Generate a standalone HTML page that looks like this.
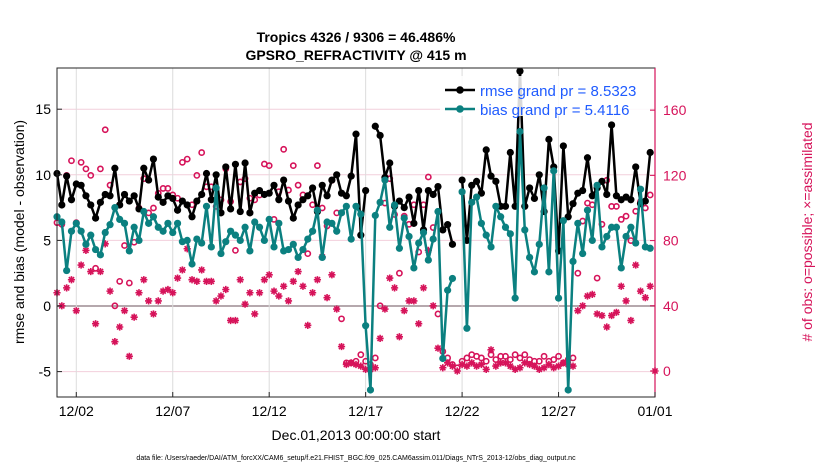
<!DOCTYPE html>
<html><head><meta charset="utf-8"><style>
html,body{margin:0;padding:0;background:#fff;}
svg{display:block;font-family:"Liberation Sans",Arial,sans-serif;}
</style></head><body>
<svg id="chart" width="830" height="470" viewBox="0 0 830 470" xmlns="http://www.w3.org/2000/svg">
<text x="356" y="42" text-anchor="middle" font-size="14" font-weight="bold">Tropics 4326 / 9306 = 46.486%</text>
<text x="356" y="60" text-anchor="middle" font-size="14" font-weight="bold">GPSRO_REFRACTIVITY @ 415 m</text>
<g id="grid"></g>
<g id="marks"></g>
<rect x="57" y="68" width="598" height="329" fill="none" stroke="#262626" stroke-width="1"/>
<line x1="655" y1="68" x2="655" y2="397" stroke="#d6135a" stroke-width="1.2"/>
<g id="axes"></g>
<text transform="translate(24,232) rotate(-90)" text-anchor="middle" font-size="14">rmse and bias (model - observation)</text>
<text transform="translate(812,232) rotate(-90)" text-anchor="middle" font-size="14" fill="#d6135a"># of obs: o=possible; ×=assimilated</text>
<text x="356" y="440" text-anchor="middle" font-size="14">Dec.01,2013 00:00:00 start</text>
<text x="356" y="460" text-anchor="middle" font-size="7">data file: /Users/raeder/DAI/ATM_forcXX/CAM6_setup/f.e21.FHIST_BGC.f09_025.CAM6assim.011/Diags_NTrS_2013-12/obs_diag_output.nc</text>
<g id="plotmarks-holder"></g>
<g>
<rect x="440" y="76" width="210" height="40" fill="#fff" opacity="0.85"/>
<line x1="445" y1="90" x2="475" y2="90" stroke="#000" stroke-width="2.5"/>
<circle cx="460" cy="90" r="3.8" fill="#000"/>
<text x="480" y="96" font-size="15" fill="#1f5bff">rmse grand pr = 8.5323</text>
<line x1="445" y1="109" x2="475" y2="109" stroke="#0b8080" stroke-width="2.5"/>
<circle cx="460" cy="109" r="3.8" fill="#0b8080"/>
<text x="480" y="115" font-size="15" fill="#1f5bff">bias grand pr = 5.4116</text>
</g>
</svg>
<script>
const rmse = [10.1,7.7,9.9,8.1,9.3,9.2,8.4,7.7,6.7,7.9,8.5,8.4,10.5,7.7,8.5,8.0,8.4,7.4,10.5,9.6,11.2,8.3,7.9,8.4,8.2,7.3,8.0,7.7,6.8,8.0,8.5,10.1,
8.1,10.0,7.1,10.6,7.4,10.8,7.2,10.9,7.1,8.6,8.8,8.5,8.6,9.2,8.1,9.6,8.0,6.7,7.7,8.1,8.4,9.0,7.2,9.2,8.4,9.6,10.0,8.6,8.4,9.9,
13.1,5.4,8.8,null,13.7,13.0,9.8,10.9,7.6,8.0,7.5,8.3,6.3,8.8,5.8,8.8,8.5,9.1,5.8,6.2,4.7,null,9.6,5.0,9.2,9.5,8.6,11.9,9.9,9.5,7.6,
7.6,11.7,7.6,17.9,7.6,9.0,8.2,10.0,7.2,12.7,10.6,4.2,12.2,6.8,7.8,8.6,8.8,11.3,8.4,9.0,9.5,8.5,13.8,8.4,8.1,8.3,8.1,10.6,7.8,8.0,11.7,null];
const bias = [6.8,6.4,2.7,5.7,6.3,5.7,4.7,5.4,4.3,3.9,5.6,6.2,7.5,6.6,6.3,4.2,6.0,5.0,7.2,6.3,6.8,6.0,5.7,6.3,5.6,6.3,4.9,5.0,3.2,5.1,4.8,7.6,
4.5,9.0,4.0,4.9,5.7,5.4,5.0,6.0,4.2,6.4,6.0,5.0,6.6,4.5,6.3,4.2,4.3,4.7,3.7,4.3,5.1,5.7,7.3,3.7,6.4,6.3,5.7,7.1,7.6,5.1,
7.6,7.0,-1.5,-6.4,6.9,7.9,9.6,6.0,7.7,4.4,6.7,5.3,2.9,4.8,5.6,3.5,5.1,7.2,-4.0,1.2,2.1,null,8.7,-1.7,7.9,8.3,6.3,5.4,4.5,7.6,6.8,
6.0,5.5,0.6,13.3,5.8,3.7,2.6,4.7,9.0,2.6,10.3,0.6,6.5,-6.4,3.4,6.3,4.0,7.3,5.0,9.2,4.5,5.3,6.0,6.0,2.9,5.3,6.0,4.8,8.9,4.5,4.4,null];
const possible = [91,90,120,129,91,128,124,120,63,124,148,114,40,55,77,54,79,100,118,97,100,109,112,112,108,106,128,130,102,120,134,113,
113,101,105,124,104,74,116,118,106,105,108,127,126,93,110,136,111,126,114,108,72,102,126,100,89,117,97,32,5,5,
6,10,6,4,8,40,103,118,96,60,95,90,102,73,102,119,88,35,12,8,4,2,6,8,10,9,8,6,10,7,9,
9,7,10,8,10,7,6,6,9,6,7,9,5,7,8,60,92,103,102,57,90,117,101,101,93,95,80,98,104,100,108,null];
const assimilated = [48,40,51,56,37,65,74,61,29,61,78,49,18,27,37,9,33,48,56,43,35,43,49,50,48,57,62,75,56,55,62,55,
55,43,46,50,31,31,56,41,48,35,48,56,59,49,46,52,43,55,61,52,28,48,56,70,45,59,38,15,4,5,
4,3,1,1,2,20,38,57,51,21,37,43,43,29,51,74,40,14,2,5,3,0,4,3,5,3,4,1,13,3,5,
5,3,1,2,5,4,3,1,2,4,2,3,5,4,3,37,40,46,47,35,34,27,34,36,52,43,31,65,49,45,52,0];
const leftTicks = [-5,0,5,10,15];
const rightTicks = [0,40,80,120,160];
const dateTicks = [1,6,11,16,21,26,31];
const dateLabels = ["12/02","12/07","12/12","12/17","12/22","12/27","01/01"];

const NS="http://www.w3.org/2000/svg";
const X0=57,X1=655,Y0=68,Y1=397;
const xDay=d=>X0+d*(X1-X0)/31;
const yL=v=>306-v*13.12;
const yR=v=>371-v*1.63;
function mk(tag,attrs,parent){const e=document.createElementNS(NS,tag);for(const k in attrs)e.setAttribute(k,attrs[k]);parent.appendChild(e);return e;}
const grid=document.getElementById('grid'),marks=document.getElementById('marks'),axes=document.getElementById('axes');

leftTicks.forEach(t=>{
  const y=yL(t);
  const g=mk('line',{x1:X0,x2:X1,y1:y,y2:y,stroke:t===0?'#b5a8ad':'#f2cfdb','stroke-width':t===0?2:1},grid);
  
  
  const tk=mk('line',{x1:X0,x2:X0+5,y1:y,y2:y,stroke:'#262626'},axes);
  
  
  const tx=mk('text',{x:X0-6,y:y+5,'text-anchor':'end','font-size':14},axes);
  tx.textContent=t;
  
  
});
rightTicks.forEach(t=>{
  const y=yR(t);
  const tk=mk('line',{x1:X1-5,x2:X1,y1:y,y2:y,stroke:'#d6135a'},axes);
  
  
  const tx=mk('text',{x:X1+8,y:y+5,'font-size':14,fill:'#d6135a'},axes);
  tx.textContent=t;
  
  
});
dateTicks.forEach((d,i)=>{
  const x=xDay(d);
  const g=mk('line',{x1:x,x2:x,y1:Y0,y2:Y1,stroke:'#dcdcdc','stroke-width':1},grid);
  
  
  const tk=mk('line',{x1:x,x2:x,y1:Y1-5,y2:Y1,stroke:'#262626'},axes);
  
  
  const tx=mk('text',{x:x,y:416,'text-anchor':'middle','font-size':14},axes);
  tx.textContent=dateLabels[i];
  
  
});

possible.forEach((v,i)=>{
  if(v==null)return;
  const c=mk('circle',{cx:xDay(i/4),cy:yR(v),r:2.6,fill:'none',stroke:'#d6135a','stroke-width':1.6},marks);
  
  
});
assimilated.forEach((v,i)=>{
  if(v==null)return;
  const x=xDay(i/4),y=yR(v),s=3.6,d=2.6;
  const p=mk('path',{d:`M${x-s},${y}H${x+s}M${x},${y-s}V${y+s}M${x-d},${y-d}L${x+d},${y+d}M${x-d},${y+d}L${x+d},${y-d}`,stroke:'#d6135a','stroke-width':1.6},marks);
  
  
});
function series(vals,color,name){
  let d='',pen=false;
  vals.forEach((v,i)=>{
    if(v==null){pen=false;return;}
    d+=(pen?'L':'M')+xDay(i/4).toFixed(1)+','+yL(v).toFixed(1);pen=true;
  });
  const p=mk('path',{d:d,fill:'none',stroke:color,'stroke-width':2.5,'stroke-linejoin':'round'},marks);
  
  
  vals.forEach((v,i)=>{
    if(v==null)return;
    const c=mk('circle',{cx:xDay(i/4),cy:yL(v),r:3.6,fill:color},marks);
    
    
  });
}
series(rmse,'#000','rmse');
series(bias,'#0b8080','bias');
</script>
</body></html>
